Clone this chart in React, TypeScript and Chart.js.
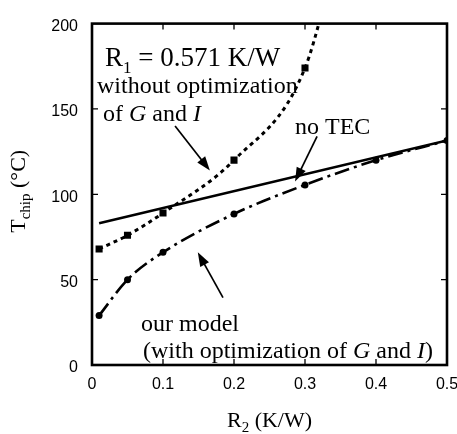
import React, { useEffect, useRef } from "react";
import { Chart, registerables } from "chart.js";
Chart.register(...registerables);

// ---- data ----
const r2Model = [0.01, 0.05, 0.1, 0.2, 0.3, 0.4, 0.5];
const tModel = [29, 50, 66, 88.5, 105.5, 120, 131.5];
const r2NoOpt = [0.01, 0.05, 0.1, 0.2, 0.3, 0.35];
const tNoOpt = [68, 76, 89, 120, 174, 250];
const r2NoTec = [0.01, 0.5];
const tNoTec = [83, 131.5];
const xTickValues = [0, 0.1, 0.2, 0.3, 0.4, 0.5];
const yTickValues = [0, 50, 100, 150, 200];

const SERIF = "'Liberation Serif', 'Times New Roman', serif";
const SANS = "'Liberation Sans', Arial, sans-serif";

type Seg = { t: string; size: number; italic?: boolean; dy?: number };

function segWidth(ctx: CanvasRenderingContext2D, segs: Seg[]) {
  let w = 0;
  for (const s of segs) {
    ctx.font = `${s.italic ? "italic " : ""}${s.size}px ${SERIF}`;
    w += ctx.measureText(s.t).width;
  }
  return w;
}

function drawSegs(ctx: CanvasRenderingContext2D, segs: Seg[], x: number, y: number) {
  ctx.textBaseline = "alphabetic";
  ctx.textAlign = "left";
  ctx.fillStyle = "#000";
  let cx = x;
  for (const s of segs) {
    ctx.font = `${s.italic ? "italic " : ""}${s.size}px ${SERIF}`;
    ctx.fillText(s.t, cx, y + (s.dy || 0));
    cx += ctx.measureText(s.t).width;
  }
}

function arrow(ctx: CanvasRenderingContext2D, x1: number, y1: number, x2: number, y2: number) {
  const ang = Math.atan2(y2 - y1, x2 - x1);
  const L = 14, W = 5;
  const c = Math.cos(ang), s = Math.sin(ang);
  ctx.save();
  ctx.strokeStyle = "#000";
  ctx.fillStyle = "#000";
  ctx.lineWidth = 1.7;
  ctx.beginPath();
  ctx.moveTo(x1, y1);
  ctx.lineTo(x2 - L * 0.7 * c, y2 - L * 0.7 * s);
  ctx.stroke();
  ctx.beginPath();
  ctx.moveTo(x2, y2);
  ctx.lineTo(x2 - L * c + W * s, y2 - L * s - W * c);
  ctx.lineTo(x2 - L * c - W * s, y2 - L * s + W * c);
  ctx.closePath();
  ctx.fill();
  ctx.restore();
}

const decor = {
  id: "decor",
  afterDraw(chart: any) {
    const ctx: CanvasRenderingContext2D = chart.ctx;
    const { left, right, top, bottom } = chart.chartArea;
    const xs = chart.scales.x;
    const ys = chart.scales.y;
    ctx.save();
    // frame
    ctx.strokeStyle = "#000";
    ctx.lineWidth = 2.6;
    ctx.strokeRect(left, top, right - left, bottom - top);
    // inward ticks
    ctx.lineWidth = 1.3;
    const tl = 6;
    ctx.beginPath();
    for (const v of xTickValues.slice(1, -1)) {
      const px = xs.getPixelForValue(v);
      ctx.moveTo(px, bottom); ctx.lineTo(px, bottom - tl);
      ctx.moveTo(px, top); ctx.lineTo(px, top + tl);
    }
    for (const v of yTickValues.slice(1, -1)) {
      const py = ys.getPixelForValue(v);
      ctx.moveTo(left, py); ctx.lineTo(left + tl, py);
      ctx.moveTo(right, py); ctx.lineTo(right - tl, py);
    }
    ctx.stroke();

    // annotations
    drawSegs(ctx, [
      { t: "R", size: 27 },
      { t: "1", size: 17, dy: 7 },
      { t: " = 0.571 K/W", size: 27 },
    ], left + 13, top + 42);
    drawSegs(ctx, [{ t: "without optimization", size: 24 }], left + 5, top + 69);
    drawSegs(ctx, [
      { t: "of ", size: 24 },
      { t: "G", size: 24, italic: true },
      { t: " and ", size: 24 },
      { t: "I", size: 24, italic: true },
    ], left + 11, top + 97);
    drawSegs(ctx, [{ t: "no TEC", size: 24 }], left + 203, top + 110);
    drawSegs(ctx, [{ t: "our model", size: 24 }], left + 49, top + 307);
    drawSegs(ctx, [
      { t: "(with optimization of ", size: 24 },
      { t: "G", size: 24, italic: true },
      { t: " and ", size: 24 },
      { t: "I", size: 24, italic: true },
      { t: ")", size: 24 },
    ], left + 51, top + 334);

    const P = (x: number, y: number) => [xs.getPixelForValue(x), ys.getPixelForValue(y)];
    const a1 = [...P(0.117, 140), ...P(0.166, 114)];
    const a2 = [...P(0.317, 134), ...P(0.286, 107.5)];
    const a3 = [...P(0.1845, 39.5), ...P(0.149, 66)];
    arrow(ctx, a1[0], a1[1], a1[2], a1[3]);
    arrow(ctx, a2[0], a2[1], a2[2], a2[3]);
    arrow(ctx, a3[0], a3[1], a3[2], a3[3]);

    // axis titles
    const xt: Seg[] = [
      { t: "R", size: 22 },
      { t: "2", size: 15, dy: 5 },
      { t: " (K/W)", size: 22 },
    ];
    const xw = segWidth(ctx, xt);
    drawSegs(ctx, xt, (left + right) / 2 - xw / 2, bottom + 62);

    const yt: Seg[] = [
      { t: "T", size: 22 },
      { t: "chip", size: 15, dy: 5 },
      { t: " (°C)", size: 22 },
    ];
    const yw = segWidth(ctx, yt);
    ctx.translate(left - 67, (top + bottom) / 2 - 3);
    ctx.rotate(-Math.PI / 2);
    drawSegs(ctx, yt, -yw / 2, 0);
    ctx.restore();
  },
};

export default function App() {
  const ref = useRef<HTMLCanvasElement>(null);
  useEffect(() => {
    document.body.style.overflow = "hidden";
    const canvas = ref.current!;
    const toPts = (xs: number[], ys: number[]) => xs.map((x, i) => ({ x, y: ys[i] }));
    const chart = new Chart(canvas, {
      type: "scatter",
      data: {
        datasets: [
          {
            data: toPts(r2NoTec, tNoTec),
            showLine: true,
            borderColor: "#000",
            borderWidth: 2.6,
            pointRadius: 0,
          },
          {
            data: toPts(r2NoOpt, tNoOpt),
            showLine: true,
            borderColor: "#000",
            borderWidth: 3,
            borderDash: [4, 4],
            cubicInterpolationMode: "monotone",
            pointStyle: "rect",
            pointRadius: 5,
            pointBorderWidth: 0,
            backgroundColor: "#000",
            borderCapStyle: "butt",
          },
          {
            data: toPts(r2Model, tModel),
            showLine: true,
            borderColor: "#000",
            borderWidth: 2.6,
            borderDash: [15, 5, 3, 5],
            cubicInterpolationMode: "monotone",
            pointStyle: "circle",
            pointRadius: 3.5,
            pointBorderWidth: 0,
            backgroundColor: "#000",
          },
        ],
      } as any,
      options: {
        animation: false,
        responsive: false,
        devicePixelRatio: 1,
        layout: { padding: { top: 11, right: 23, left: 0, bottom: 0 } },
        plugins: { legend: { display: false }, tooltip: { enabled: false } },
        scales: {
          x: {
            type: "linear",
            min: 0,
            max: 0.5,
            afterBuildTicks: (s: any) => { s.ticks = xTickValues.map((v) => ({ value: v })); },
            afterFit: (s: any) => { s.height = 69; },
            ticks: {
              color: "#000",
              font: { family: SANS, size: 16 },
              padding: 10,
              maxRotation: 0,
              callback: (v: any) => (Number(v) === 0 ? "0" : Number(v).toFixed(1)),
            },
            grid: { display: false, drawTicks: false },
            border: { display: false },
          },
          y: {
            type: "linear",
            min: 0,
            max: 200,
            afterBuildTicks: (s: any) => { s.ticks = yTickValues.map((v) => ({ value: v })); },
            afterFit: (s: any) => { s.width = 92; },
            ticks: {
              color: "#000",
              font: { family: SANS, size: 16 },
              padding: 14,
              labelOffset: 3,
              callback: (v: any) => String(v),
            },
            grid: { display: false, drawTicks: false },
            border: { display: false },
          },
        },
      } as any,
      plugins: [decor],
    });
    return () => chart.destroy();
  }, []);
  return (
    <div style={{ position: "fixed", left: 0, top: 0, width: 457, height: 434, overflow: "hidden", background: "#fff" }}>
      <canvas ref={ref} width={470} height={434} style={{ display: "block" }} />
    </div>
  );
}
